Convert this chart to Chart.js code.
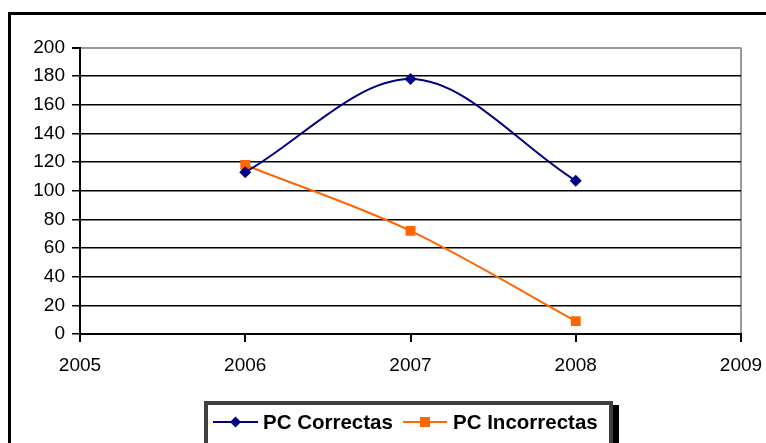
<!DOCTYPE html>
<html>
<head>
<meta charset="utf-8">
<script src="https://cdn.jsdelivr.net/npm/chart.js@4"></script>
<style>
  html, body { margin: 0; padding: 0; background: #fff; }
  #wrap { width: 766px; height: 443px; }
</style>
</head>
<body>
<div id="wrap"><canvas id="pcchart"></canvas></div>
<script>
// years on the x axis and the two series
const years = [2006, 2007, 2008];
const correctas = [113, 178, 107];
const incorrectas = [118, 72, 9];
const seriesNames = ["PC Correctas", "PC Incorrectas"];
const seriesColors = ["#000080", "#FF6600"];

function toPoints(vals) {
    var pts = [];
    vals.forEach((v, i) => {
        pts.push({ x: years[i], y: v });
    });
    return pts;
}

// frame round the whole chart (thick black, cut off right and bottom)
const framePlugin = {
    id: 'frame',
    beforeDraw(chart) {
        const ctx = chart.ctx;
        ctx.save();
        ctx.fillStyle = '#fff';
        ctx.fillRect(0, 0, chart.width, chart.height);
        ctx.strokeStyle = '#000';
        ctx.lineWidth = 3;
        ctx.strokeRect(9.5, 13.5, 800, 500);
        ctx.restore();
    }
};

// excel style legend box: line + marker, bold text, grey border with shadow
const legendPlugin = {
    id: 'xlLegend',
    afterDraw(chart) {
        const ctx = chart.ctx;
        ctx.save();
        // shadow
        ctx.fillStyle = '#000';
        ctx.fillRect(208, 405, 411, 60);
        // box
        ctx.fillStyle = '#fff';
        ctx.fillRect(204, 401, 409, 60);
        ctx.strokeStyle = '#404040';
        ctx.lineWidth = 4;
        ctx.strokeRect(206, 403, 405, 56);

        const items = [
            { x0: 213, x1: 258, tx: 263 },
            { x0: 403, x1: 447, tx: 453 }
        ];
        const cy = 422;
        ctx.font = 'bold 20.5px "Liberation Sans", Arial, sans-serif';
        ctx.textBaseline = 'middle';
        chart.data.datasets.forEach((ds, i) => {
            const it = items[i];
            ctx.strokeStyle = ds.borderColor;
            ctx.lineWidth = 2;
            ctx.beginPath();
            ctx.moveTo(it.x0, cy);
            ctx.lineTo(it.x1, cy);
            ctx.stroke();
            const mx = (it.x0 + it.x1) / 2;
            ctx.fillStyle = ds.backgroundColor;
            ctx.beginPath();
            if (ds.pointStyle === 'rectRot') {
                ctx.moveTo(mx - 5.5, cy);
                ctx.lineTo(mx, cy - 5.5);
                ctx.lineTo(mx + 5.5, cy);
                ctx.lineTo(mx, cy + 5.5);
                ctx.closePath();
            } else {
                ctx.rect(mx - 5, cy - 5, 10, 10);
            }
            ctx.fill();
            ctx.fillStyle = '#000';
            ctx.fillText(ds.label, it.tx, cy + 1);
        });
        ctx.restore();
    }
};

const data = {
    datasets: [{
        label: seriesNames[0],
        data: toPoints(correctas),
        borderColor: seriesColors[0],
        backgroundColor: seriesColors[0],
        borderWidth: 2,
        pointStyle: 'rectRot',
        pointRadius: 6,
        pointBorderWidth: 0,
        cubicInterpolationMode: 'monotone'
    }, {
        label: seriesNames[1],
        data: toPoints(incorrectas),
        borderColor: seriesColors[1],
        backgroundColor: seriesColors[1],
        borderWidth: 2,
        pointStyle: 'rect',
        pointRadius: 7,
        pointBorderWidth: 0,
        cubicInterpolationMode: 'monotone'
    }]
};

const tickFont = { family: '"Liberation Sans", Arial, sans-serif', size: 19 };

const config = {
    type: 'line',
    data: data,
    plugins: [framePlugin, legendPlugin],
    options: {
        responsive: true,
        maintainAspectRatio: false,
        animation: false,
        layout: {
            padding: { top: 47.5, right: 25, left: 0, bottom: 0 }
        },
        plugins: {
            legend: { display: false },
            tooltip: { enabled: false }
        },
        scales: {
            x: {
                type: 'linear',
                min: 2005,
                max: 2009,
                ticks: {
                    stepSize: 1,
                    color: '#000',
                    font: tickFont,
                    padding: 12,
                    maxRotation: 0,
                    callback: v => String(v)
                },
                grid: {
                    drawOnChartArea: true,
                    color: c => (c.tick && c.tick.value === 2009) ? '#999' : 'rgba(0,0,0,0)',
                    tickColor: '#000',
                    tickLength: 8,
                    lineWidth: 2
                },
                border: { color: '#000', width: 2 },
                afterFit: s => {
                    s.height = 109;
                    // let the layout padding alone decide the right edge
                    s.paddingLeft = 0;
                    s.paddingRight = 0;
                }
            },
            y: {
                min: 0,
                max: 200,
                ticks: {
                    stepSize: 20,
                    color: '#000',
                    font: tickFont,
                    padding: 7
                },
                grid: {
                    color: c => (c.tick && c.tick.value === 200) ? '#999' : '#000',
                    lineWidth: c => (c.tick && c.tick.value === 200) ? 2 : 1.5,
                    tickColor: '#000',
                    tickLength: 8
                },
                border: { color: '#000', width: 2 },
                afterFit: s => { s.width = 80; }
            }
        }
    }
};

const myChart = new Chart(document.getElementById('pcchart'), config);
</script>
</body>
</html>
